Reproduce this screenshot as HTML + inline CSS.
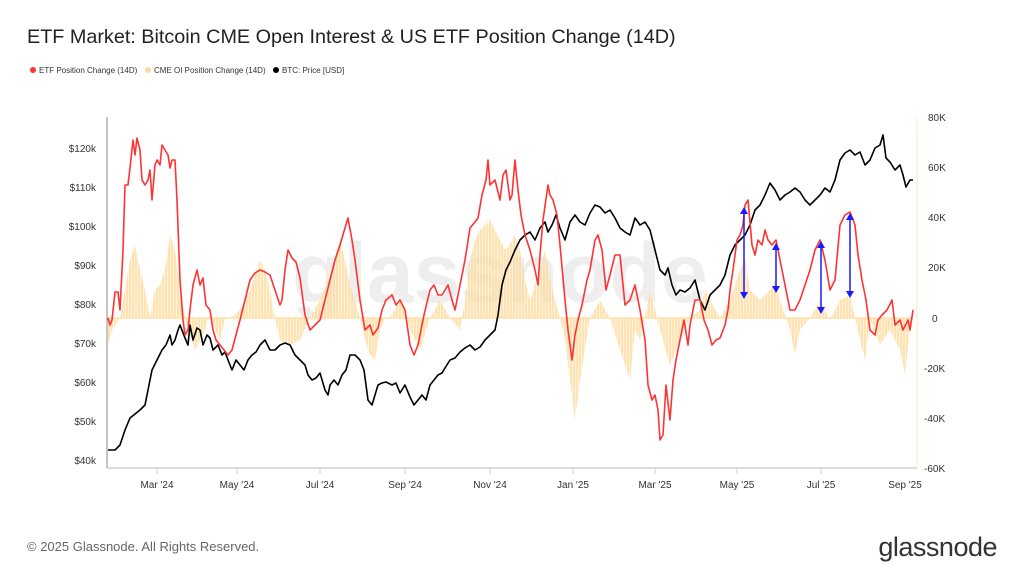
<!DOCTYPE html>
<html><head><meta charset="utf-8"><style>
body{margin:0;width:1024px;height:576px;background:#fff;font-family:"Liberation Sans",sans-serif;overflow:hidden}
</style></head><body>
<svg width="1024" height="576" xmlns="http://www.w3.org/2000/svg" font-family="Liberation Sans, sans-serif">
<defs><pattern id="st" width="3" height="10" patternUnits="userSpaceOnUse"><rect width="2" height="10" fill="#fdd99a"/><rect x="2" width="1" height="10" fill="#feecd0"/></pattern></defs>
<text x="27" y="43" font-size="19.8" fill="#222">ETF Market: Bitcoin CME Open Interest &amp; US ETF Position Change (14D)</text>
<circle cx="33" cy="70" r="3" fill="#f33"/><text x="39" y="73" font-size="8" fill="#333">ETF Position Change (14D)</text>
<circle cx="148" cy="70" r="3" fill="#fdd9a0"/><text x="154" y="73" font-size="8" fill="#333">CME OI Position Change (14D)</text>
<circle cx="276" cy="70" r="3" fill="#000"/><text x="282" y="73" font-size="8" fill="#333">BTC: Price [USD]</text>
<text x="500" y="302" font-size="84" fill="#eeeeee" text-anchor="middle" font-weight="bold">glassnode</text>
<line x1="107" y1="117" x2="107" y2="468" stroke="#888"/>
<line x1="107" y1="468" x2="917" y2="468" stroke="#bbb"/>
<line x1="917" y1="117" x2="917" y2="468" stroke="#fde6c0"/>
<g font-size="10" fill="#333" text-anchor="end">
<text x="96" y="152">$120k</text><text x="96" y="191">$110k</text><text x="96" y="230">$100k</text><text x="96" y="269">$90k</text><text x="96" y="308">$80k</text><text x="96" y="347">$70k</text><text x="96" y="386">$60k</text><text x="96" y="425">$50k</text><text x="96" y="464">$40k</text>
</g>
<g font-size="10" fill="#333">
<text x="928" y="121">80K</text><text x="928" y="171">60K</text><text x="928" y="221">40K</text><text x="928" y="271">20K</text><text x="932" y="322">0</text><text x="924" y="372">-20K</text><text x="924" y="422">-40K</text><text x="924" y="472">-60K</text>
</g>
<g font-size="10" fill="#333" text-anchor="middle">
<text x="157" y="488">Mar '24</text><text x="237" y="488">May '24</text><text x="320" y="488">Jul '24</text><text x="405" y="488">Sep '24</text><text x="490" y="488">Nov '24</text><text x="573" y="488">Jan '25</text><text x="655" y="488">Mar '25</text><text x="737" y="488">May '25</text><text x="821" y="488">Jul '25</text><text x="905" y="488">Sep '25</text>
</g>
<g stroke="#ccc"><line x1="157" y1="468" x2="157" y2="474"/><line x1="237" y1="468" x2="237" y2="474"/><line x1="320" y1="468" x2="320" y2="474"/><line x1="405" y1="468" x2="405" y2="474"/><line x1="490" y1="468" x2="490" y2="474"/><line x1="573" y1="468" x2="573" y2="474"/><line x1="655" y1="468" x2="655" y2="474"/><line x1="737" y1="468" x2="737" y2="474"/><line x1="821" y1="468" x2="821" y2="474"/></g>
<polygon fill="url(#st)" opacity="0.75" points="108,318 108,345 112,330 120,318 125,290 130,260 135,245 140,270 145,290 150,318 155,290 160,285 165,270 170,235 175,250 180,290 185,318 190,335 195,350 200,340 205,330 210,310 215,330 220,340 225,320 230,318 240,310 250,290 260,260 265,270 270,290 275,318 280,340 290,345 300,340 310,318 320,300 330,275 340,240 345,260 350,285 355,300 360,318 365,340 370,355 375,360 380,330 385,318 390,318 400,300 405,310 410,330 420,350 430,318 440,300 450,318 460,330 465,300 470,260 475,240 480,230 490,220 500,240 505,250 510,245 515,235 520,250 525,280 530,300 540,270 545,250 550,280 555,300 560,318 565,340 570,380 575,420 580,380 590,318 600,300 610,318 620,350 630,380 635,330 640,340 645,318 650,290 660,330 670,365 680,340 690,318 700,310 705,290 710,300 720,318 730,300 740,270 745,260 750,290 760,300 770,290 775,280 780,300 790,330 795,355 800,330 810,318 820,300 830,320 840,300 850,295 855,318 860,340 865,360 870,320 880,345 890,330 900,350 905,375 910,330 913,318"/>
<line x1="108" y1="318" x2="913" y2="318" stroke="#fde2aa" stroke-width="1.5"/>
<polyline fill="none" stroke="#000" stroke-width="1.6" stroke-linejoin="round" points="108,450 115,450 120,445 125,430 130,418 135,414 140,410 145,405 148,390 152,370 157,360 162,350 166,345 170,335 172,345 175,340 178,330 180,325 185,338 188,345 190,325 193,340 197,328 200,330 203,345 207,335 210,338 213,350 218,345 222,355 225,352 228,360 232,370 236,360 240,365 244,370 248,360 252,355 256,352 260,345 265,340 270,350 275,350 280,345 285,343 290,345 295,355 300,360 305,365 308,375 312,380 316,378 320,373 325,390 328,395 330,385 334,380 338,385 342,375 346,370 350,355 355,355 360,360 364,370 368,400 372,405 375,395 378,385 382,383 386,382 392,385 396,383 400,393 405,385 410,397 414,405 418,400 422,395 426,400 430,385 434,380 438,375 442,373 445,368 450,360 455,358 460,352 465,348 470,345 475,350 480,347 485,340 490,335 495,330 498,315 500,300 502,285 506,270 510,262 515,250 520,240 525,235 530,232 535,240 540,228 545,222 548,232 552,225 556,215 560,228 565,240 570,222 575,215 580,222 585,225 590,213 595,205 600,207 605,213 610,210 615,218 620,228 625,232 630,235 635,218 640,225 645,222 650,230 655,250 660,270 665,275 668,268 672,285 676,295 680,290 685,292 690,288 695,280 700,300 705,310 710,295 715,290 720,285 725,275 730,255 735,245 740,240 745,235 750,225 755,210 760,205 765,195 770,183 775,190 780,200 785,195 790,192 795,188 800,192 805,200 810,205 815,200 820,195 825,188 830,192 835,180 840,160 845,153 850,150 855,155 860,152 865,165 870,160 875,148 880,145 883,135 886,158 890,162 895,170 900,165 903,175 906,187 910,180 913,180"/>
<polyline fill="none" stroke="#f33" stroke-width="1.6" stroke-linejoin="round" points="108,318 110,325 112,320 115,292 118,292 120,310 123,250 125,185 128,185 130,168 133,140 135,155 137,138 140,150 142,180 145,185 148,180 150,170 152,200 155,165 157,160 160,165 162,145 165,150 168,155 170,168 172,160 175,160 177,200 180,280 183,320 185,335 188,330 190,310 193,285 197,270 200,285 203,278 206,305 210,310 213,330 216,340 220,345 224,350 228,355 232,350 236,335 240,320 245,300 250,280 255,273 260,270 265,272 270,275 275,290 280,305 282,300 285,270 288,250 292,258 296,262 300,278 305,315 310,330 315,325 320,320 325,300 330,280 335,260 340,245 345,228 348,218 352,240 355,260 360,300 365,330 370,325 373,335 378,328 382,310 386,300 392,295 396,305 400,300 405,310 410,345 414,355 418,345 424,315 430,290 434,285 438,295 442,295 448,285 452,300 455,310 460,285 465,260 470,228 475,222 478,218 482,195 486,180 488,160 490,185 495,180 500,200 503,175 506,170 510,200 512,195 515,160 518,190 521,215 525,235 530,250 535,270 538,285 540,255 543,220 548,185 550,195 553,200 557,215 560,245 565,300 568,330 572,360 575,335 578,320 582,305 587,280 590,270 595,240 598,235 602,250 606,290 610,275 615,255 620,255 625,305 630,300 635,285 640,310 645,340 648,385 652,400 655,395 658,410 660,440 663,435 666,385 670,420 673,380 676,360 680,340 684,320 688,345 690,325 695,300 700,300 704,320 708,330 712,345 716,340 720,338 725,325 728,310 730,290 733,270 737,240 740,235 743,225 745,205 748,200 752,245 755,255 758,240 762,245 765,230 768,240 772,245 776,240 780,260 785,285 790,310 795,310 800,300 805,285 810,270 815,250 820,240 825,260 830,290 835,280 840,225 845,215 850,212 855,225 858,255 862,280 866,300 870,330 875,335 878,320 882,315 887,310 892,300 895,325 900,320 903,330 908,320 910,330 913,310"/>
<g stroke="#1a1aff" stroke-width="1.5" fill="#1a1aff">
<line x1="744" y1="212" x2="744" y2="294"/><polygon points="740,214 748,214 744,207" stroke="none"/><polygon points="740,292 748,292 744,299" stroke="none"/>
<line x1="776" y1="248" x2="776" y2="288"/><polygon points="772,250 780,250 776,243" stroke="none"/><polygon points="772,286 780,286 776,293" stroke="none"/>
<line x1="821" y1="246" x2="821" y2="309"/><polygon points="817,248 825,248 821,241" stroke="none"/><polygon points="817,307 825,307 821,314" stroke="none"/>
<line x1="850" y1="218" x2="850" y2="293"/><polygon points="846,220 854,220 850,213" stroke="none"/><polygon points="846,291 854,291 850,298" stroke="none"/>
</g>
<text x="27" y="551" font-size="13" fill="#666">© 2025 Glassnode. All Rights Reserved.</text>
<text x="997" y="556" font-size="27" fill="#333" text-anchor="end" letter-spacing="-0.5">glassnode</text>
</svg>
</body></html>
